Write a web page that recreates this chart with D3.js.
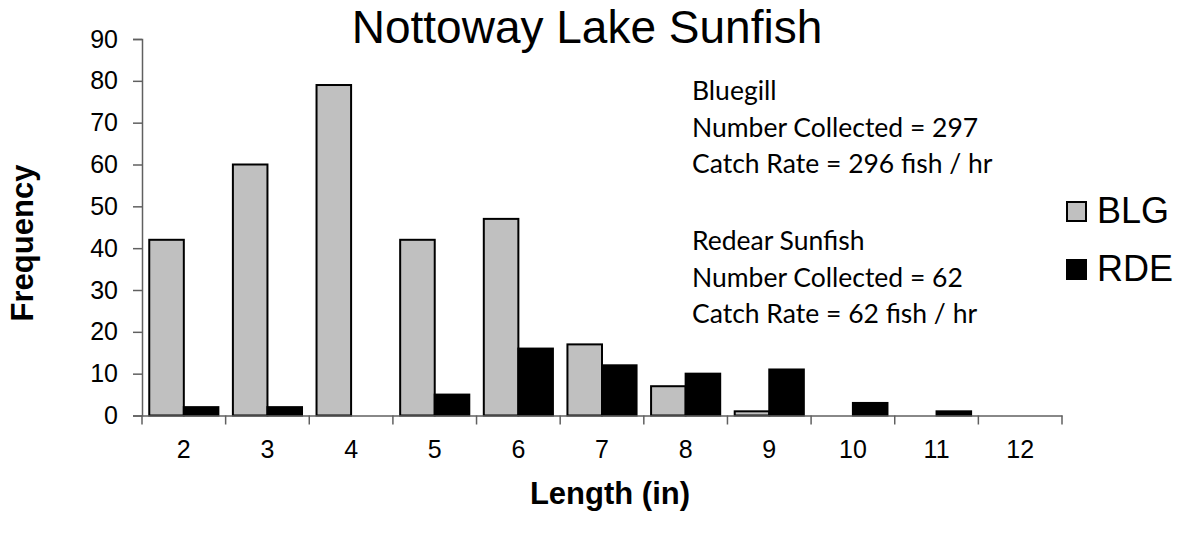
<!DOCTYPE html>
<html>
<head>
<meta charset="utf-8">
<script src="https://cdn.jsdelivr.net/npm/d3@7"></script>
<style>
  body { margin: 0; background: white; }
</style>
</head>
<body>
<div id="chart"></div>
<script>
const lengths = ["2", "3", "4", "5", "6", "7", "8", "9", "10", "11", "12"]
const blg = [42, 60, 79, 42, 47, 17, 7, 1, 0, 0, 0]
const rde = [2, 2, 0, 5, 16, 12, 10, 11, 3, 1, 0]
const seriesNames = ["BLG", "RDE"]
const seriesColors = ["#c0c0c0", "#000000"]
const yTicks = [0, 10, 20, 30, 40, 50, 60, 70, 80, 90]
const notes = [
  ["Bluegill", "Number Collected = 297", "Catch Rate = 296 fish / hr"],
  ["Redear Sunfish", "Number Collected = 62", "Catch Rate = 62 fish / hr"]
]

const width = 1184, height = 535
const margin = {top: 39, right: 122, bottom: 119.5, left: 142}
const arial = "Arial, 'Liberation Sans', sans-serif"

const svg = d3.select("#chart").append("svg")
  .attr("width", width)
  .attr("height", height)
  .style("font-family", arial)

// scales
const x = d3.scaleBand()
  .domain(lengths)
  .range([margin.left, width - margin.right])
  .padding(0)

const x1 = d3.scaleBand()
  .domain(seriesNames)
  .range([0, x.bandwidth()])
  .paddingInner(0)
  .paddingOuter(0.21)

const y = d3.scaleLinear()
  .domain([0, 90])
  .range([height - margin.bottom, margin.top])

const color = d3.scaleOrdinal().domain(seriesNames).range(seriesColors)

const rows = lengths.map((l, i) => ({len: l, BLG: blg[i], RDE: rde[i]}))

// bars
const groups = svg.append("g").selectAll("g")
  .data(rows)
  .enter().append("g")
  .attr("transform", d => "translate(" + x(d.len) + ",0)")

groups.selectAll("rect")
  .data(d => seriesNames.map(s => ({key: s, value: d[s]})).filter(e => e.value > 0))
  .enter().append("rect")
  .attr("x", d => x1(d.key))
  .attr("y", d => y(d.value))
  .attr("width", x1.bandwidth())
  .attr("height", d => y(0) - y(d.value))
  .attr("fill", d => color(d.key))
  .attr("stroke", "black")
  .attr("stroke-width", 2)

// y axis
const yAxis = svg.append("g")
  .attr("transform", "translate(" + margin.left + ",0)")
  .call(d3.axisLeft(y).tickValues(yTicks).tickSize(9).tickPadding(15))
yAxis.select(".domain").attr("stroke", "#606060").attr("stroke-width", 1.5)
yAxis.selectAll(".tick line").attr("stroke", "#606060").attr("stroke-width", 1.5)
yAxis.selectAll(".tick text")
  .style("font-family", arial)
  .style("font-size", "25px")
  .attr("fill", "black")

// x axis: labels centred, ticks on category boundaries
const xAxis = svg.append("g")
  .attr("transform", "translate(0," + y(0) + ")")
  .call(d3.axisBottom(x).tickSize(0).tickPadding(25))
xAxis.select(".domain").attr("stroke", "#606060").attr("stroke-width", 1.5)
xAxis.selectAll(".tick text")
  .style("font-family", arial)
  .style("font-size", "25px")
  .attr("fill", "black")

const bounds = lengths.map(l => x(l)).concat([x(lengths[lengths.length - 1]) + x.bandwidth()])
xAxis.selectAll(".bound")
  .data(bounds)
  .enter().append("line")
  .attr("class", "bound")
  .attr("x1", d => d).attr("x2", d => d)
  .attr("y1", 0).attr("y2", 9)
  .attr("stroke", "#606060")
  .attr("stroke-width", 1.5)

// title and axis labels
svg.append("text")
  .attr("x", 587).attr("y", 43)
  .attr("text-anchor", "middle")
  .attr("font-size", 46)
  .text("Nottoway Lake Sunfish")

svg.append("text")
  .attr("transform", "translate(33,243) rotate(-90)")
  .attr("text-anchor", "middle")
  .attr("font-size", 31)
  .attr("font-weight", "bold")
  .text("Frequency")

svg.append("text")
  .attr("x", 610).attr("y", 504)
  .attr("text-anchor", "middle")
  .attr("font-size", 31)
  .attr("font-weight", "bold")
  .text("Length (in)")

// annotation text
notes.forEach((block, bi) => {
  block.forEach((line, li) => {
    svg.append("text")
      .attr("x", 692)
      .attr("y", 100 + bi * 150 + li * 36.5)
      .style("font-family", "Lato, 'Open Sans', sans-serif")
      .attr("font-size", 26.5)
      .text(line)
  })
})

// legend
const legend = svg.append("g").selectAll("g")
  .data(seriesNames)
  .enter().append("g")
  .attr("transform", (d, i) => "translate(1067," + (202 + i * 58) + ")")

legend.append("rect")
  .attr("width", 19).attr("height", 19)
  .attr("fill", d => color(d))
  .attr("stroke", "black")
  .attr("stroke-width", 2)

legend.append("text")
  .attr("x", 30).attr("y", 21)
  .attr("font-size", 36)
  .text(d => d)
</script>
</body>
</html>
